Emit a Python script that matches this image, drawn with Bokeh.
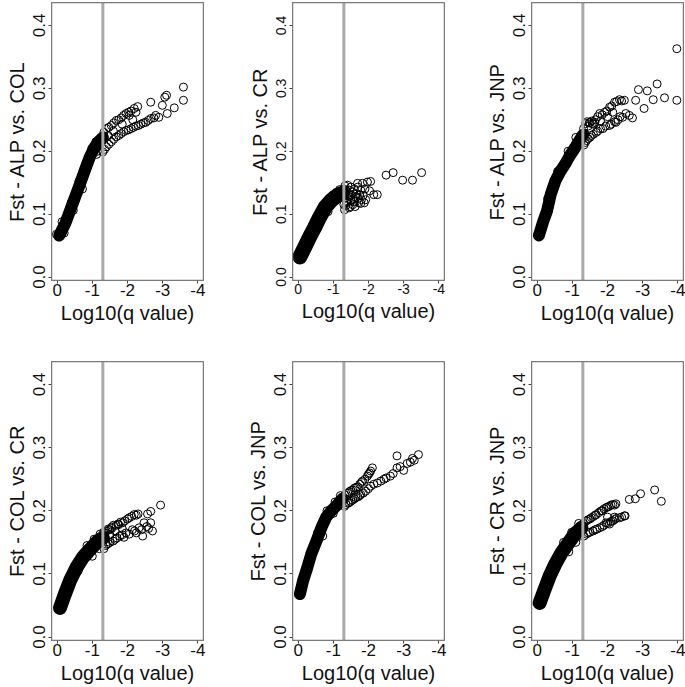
from bokeh.plotting import figure
from bokeh.layouts import row, column
from bokeh.models import Range1d, Span, FixedTicker, PrintfTickFormatter, BoxAnnotation
from bokeh.embed import file_html
from bokeh.resources import INLINE

# ---------------- data ----------------
x_ticks = [0, -1, -2, -3, -4]
y_ticks = [0.0, 0.1, 0.2, 0.3, 0.4]
q_cutoff = -1.3  # log10(0.05)
x_label = "Log10(q value)"

labels = ["Fst - ALP vs. COL", "Fst - ALP vs. CR", "Fst - ALP vs. JNP",
          "Fst - COL vs. CR", "Fst - COL vs. JNP", "Fst - CR vs. JNP"]

# dense (solid) part of each cloud: centre line of the band
core_x_alp_col = [-0.06, -0.23, -0.37, -0.51, -0.65, -0.79, -0.93, -1.07, -1.21, -1.30]
core_y_alp_col = [0.066, 0.085, 0.106, 0.127, 0.148, 0.170, 0.191, 0.207, 0.217, 0.222]
pts_x_alp_col = [-1.33, -1.40, -1.47, -1.54, -1.61, -1.68, -1.75, -1.82, -1.89, -1.96, -2.03, -2.10, -2.19, -2.24, -2.29, -2.05,
                 -1.30, -1.35, -1.40, -1.47, -1.54, -1.61, -1.68, -1.75, -1.82, -1.89, -1.96, -2.03, -2.10, -2.17, -2.24, -2.31,
                 -2.38, -2.45, -2.52, -2.59, -2.66, -2.75, -2.89, -1.45, -1.60, -1.85, -2.15,
                 -2.66, -2.80, -2.99, -3.06, -3.11, -3.13, -3.33, -3.59, -3.59,
                 0.02, -0.20, -1.15, -1.20, -1.25, -1.10,
                 -0.14, -0.40, -0.62, -0.86, -0.98, -0.46, -0.72, -1.12]
pts_y_alp_col = [0.230, 0.236, 0.238, 0.241, 0.245, 0.249, 0.250, 0.253, 0.257, 0.260, 0.262, 0.264, 0.268, 0.262, 0.271, 0.257,
                 0.199, 0.203, 0.207, 0.211, 0.215, 0.219, 0.223, 0.225, 0.228, 0.231, 0.233, 0.234, 0.236, 0.238, 0.240, 0.241,
                 0.243, 0.245, 0.246, 0.249, 0.252, 0.253, 0.254, 0.225, 0.232, 0.243, 0.250,
                 0.278, 0.257, 0.273, 0.286, 0.289, 0.260, 0.269, 0.281, 0.302,
                 0.068, 0.070, 0.200, 0.210, 0.222, 0.215,
                 0.088, 0.118, 0.152, 0.185, 0.204, 0.106, 0.140, 0.195]

core_x_alp_cr = [-0.05, -0.19, -0.33, -0.47, -0.61, -0.77, -0.94, -1.12, -1.25]
core_y_alp_cr = [0.032, 0.048, 0.064, 0.079, 0.095, 0.111, 0.122, 0.130, 0.133]
pts_x_alp_cr = [-1.30, -1.36, -1.41, -1.50, -1.64, -1.69, -1.78, -1.78, -1.83, -1.92, -1.97, -2.06, -2.15, -2.25, -2.03,
                -2.50, -2.70, -2.97, -3.25, -3.51, -1.36, -1.50, -1.40, -1.45, -1.55, -1.60, -1.70, -1.32, -1.85, -1.42, -1.55,
                -1.33, -1.38, -1.44, -1.48, -1.52, -1.58, -1.62, -1.66, -1.72, -1.75, -1.80, -1.88, -1.35, -1.47, -1.60,
                -1.70, -1.33, -1.90, -1.30,
                -0.40, -0.70, -0.98, -1.18, -0.55, -0.85]
pts_y_alp_cr = [0.140, 0.138, 0.146, 0.143, 0.127, 0.149, 0.117, 0.138, 0.149, 0.123, 0.151, 0.152, 0.131, 0.131, 0.137,
                0.162, 0.166, 0.154, 0.154, 0.166, 0.114, 0.122, 0.120, 0.110, 0.115, 0.120, 0.125, 0.107, 0.130, 0.130, 0.135,
                0.125, 0.118, 0.128, 0.112, 0.130, 0.125, 0.112, 0.132, 0.118, 0.130, 0.123, 0.118, 0.133, 0.138, 0.140,
                0.143, 0.145, 0.140, 0.115,
                0.080, 0.112, 0.130, 0.139, 0.078, 0.104]

core_x_alp_jnp = [-0.05, -0.17, -0.28, -0.39, -0.52, -0.66, -0.80, -0.93, -1.07, -1.20, -1.30]
core_y_alp_jnp = [0.066, 0.088, 0.105, 0.132, 0.153, 0.168, 0.180, 0.193, 0.205, 0.217, 0.226]
pts_x_alp_jnp = [-1.36, -1.50, -1.64, -1.78, -1.92, -2.06, -2.20, -2.34, -2.48, -1.45, -1.57,
                 -1.40, -1.54, -1.68, -1.87, -2.06, -2.24, -2.43, -2.62, -2.71, -1.80, -2.00, -2.15,
                 -2.80, -2.88, -3.04, -3.13, -3.30, -3.41, -3.62, -3.97, -3.97,
                 -1.32, -1.38, -1.42, -1.48, -1.55, -1.60, -1.66, -1.72,
                 -1.33, -1.37, -1.45, -1.50, -1.60, -1.72, -1.80, -1.95, -2.10, -2.20, -2.30, -2.36, -2.52,
                 -1.85, -1.98, -2.12, -2.26, -2.40,
                 -0.30, -0.58, -0.88, -1.10, -0.74, -1.00]
pts_y_alp_jnp = [0.228, 0.246, 0.246, 0.260, 0.262, 0.270, 0.278, 0.282, 0.281, 0.240, 0.244,
                 0.217, 0.225, 0.230, 0.236, 0.241, 0.246, 0.254, 0.257, 0.253, 0.248, 0.255, 0.262,
                 0.281, 0.298, 0.268, 0.296, 0.282, 0.307, 0.285, 0.363, 0.281,
                 0.236, 0.244, 0.247, 0.245, 0.248, 0.243, 0.250, 0.255,
                 0.210, 0.214, 0.220, 0.222, 0.227, 0.232, 0.236, 0.240, 0.243, 0.247, 0.250, 0.255, 0.260,
                 0.258, 0.264, 0.272, 0.279, 0.280,
                 0.125, 0.168, 0.200, 0.222, 0.172, 0.198]

core_x_col_cr = [-0.08, -0.22, -0.38, -0.55, -0.73, -0.94, -1.16, -1.30]
core_y_col_cr = [0.046, 0.068, 0.091, 0.110, 0.126, 0.139, 0.152, 0.157]
pts_x_col_cr = [-1.49, -1.68, -1.86, -2.05, -2.19, -1.40, -1.59, -1.78, -1.96, -2.14, -2.33, -2.47, -2.43,
                -2.66, -2.71, -2.57, -2.66, -2.94, -1.35, -1.55, -1.75,
                -1.32, -1.40, -1.45, -1.55, -1.60, -1.73, -1.80, -1.92, -2.00, -2.12, -2.25, -2.30,
                -1.33, -1.38, -1.45, -1.50, -1.65, -1.70, -1.85, -1.90, -2.05, -2.20, -2.25, -2.40, -2.55, -2.60,
                -1.50, -1.65, -1.85,
                -0.85, -1.05, -1.22, -1.00, -1.20, -0.60]
pts_y_col_cr = [0.170, 0.177, 0.181, 0.189, 0.194, 0.147, 0.152, 0.160, 0.165, 0.170, 0.173, 0.181, 0.160,
                0.181, 0.168, 0.195, 0.199, 0.209, 0.165, 0.172, 0.178,
                0.166, 0.168, 0.171, 0.174, 0.177, 0.179, 0.182, 0.184, 0.187, 0.191, 0.193, 0.195,
                0.140, 0.145, 0.148, 0.150, 0.155, 0.157, 0.162, 0.158, 0.163, 0.168, 0.165, 0.170, 0.175, 0.172,
                0.162, 0.168, 0.172,
                0.145, 0.155, 0.163, 0.128, 0.140, 0.105]

core_x_col_jnp = [-0.05, -0.14, -0.26, -0.37, -0.52, -0.66, -0.80, -0.96, -1.12, -1.26]
core_y_col_jnp = [0.068, 0.089, 0.110, 0.131, 0.152, 0.173, 0.190, 0.201, 0.210, 0.219]
pts_x_col_jnp = [-1.41, -1.55, -1.69, -1.83, -1.97, -2.06, -2.11, -1.36, -1.50, -1.64, -1.78, -1.92, -2.06,
                 -2.25, -2.44, -2.62, -2.81, -2.81, -3.42, -3.19, -3.00, -3.30,
                 -1.33, -1.45, -1.50, -1.60, -1.65, -1.75, -1.80, -1.90, -2.00, -2.03,
                 -1.32, -1.42, -1.45, -1.55, -1.60, -1.70, -1.75, -1.85, -2.00, -2.15, -2.35, -2.50, -2.70, -2.90,
                 -3.10, -3.25,
                 -0.55, -0.82, -1.05, -1.20, -0.70, -1.00]
pts_y_col_jnp = [0.228, 0.233, 0.238, 0.247, 0.255, 0.263, 0.268, 0.210, 0.215, 0.221, 0.226, 0.231, 0.239,
                 0.244, 0.250, 0.255, 0.268, 0.287, 0.289, 0.277, 0.264, 0.280,
                 0.225, 0.230, 0.232, 0.236, 0.237, 0.242, 0.245, 0.250, 0.258, 0.260,
                 0.207, 0.212, 0.213, 0.217, 0.219, 0.222, 0.224, 0.228, 0.235, 0.242, 0.247, 0.252, 0.259, 0.270,
                 0.275, 0.283,
                 0.165, 0.200, 0.214, 0.224, 0.160, 0.196]

core_x_cr_jnp = [-0.07, -0.21, -0.36, -0.51, -0.70, -0.89, -1.07, -1.26]
core_y_cr_jnp = [0.054, 0.075, 0.097, 0.115, 0.134, 0.149, 0.163, 0.173]
pts_x_cr_jnp = [-1.40, -1.54, -1.68, -1.82, -1.96, -2.10, -2.24, -1.40, -1.59, -1.78, -1.96, -2.15, -2.34,
                -2.48, -2.06, -2.62, -2.79, -2.94, -3.34, -3.53,
                -1.32, -1.45, -1.50, -1.60, -1.65, -1.75, -1.85, -1.90, -2.00, -2.05, -2.15, -2.20,
                -1.33, -1.45, -1.50, -1.65, -1.70, -1.85, -1.90, -2.00, -2.10, -2.20, -2.25, -2.40, -2.50,
                -2.00, -2.20,
                -0.75, -0.98, -1.18, -1.22, -0.90, -1.10]
pts_y_cr_jnp = [0.184, 0.189, 0.194, 0.200, 0.205, 0.209, 0.211, 0.163, 0.168, 0.173, 0.181, 0.184, 0.189,
                0.192, 0.179, 0.218, 0.219, 0.227, 0.233, 0.215,
                0.180, 0.186, 0.187, 0.191, 0.193, 0.197, 0.200, 0.203, 0.206, 0.207, 0.210, 0.209,
                0.160, 0.165, 0.166, 0.170, 0.171, 0.175, 0.177, 0.180, 0.183, 0.186, 0.188, 0.190, 0.192,
                0.190, 0.190,
                0.150, 0.166, 0.180, 0.160, 0.135, 0.150]

panels = [
    (core_x_alp_col, core_y_alp_col, pts_x_alp_col, pts_y_alp_col),
    (core_x_alp_cr, core_y_alp_cr, pts_x_alp_cr, pts_y_alp_cr),
    (core_x_alp_jnp, core_y_alp_jnp, pts_x_alp_jnp, pts_y_alp_jnp),
    (core_x_col_cr, core_y_col_cr, pts_x_col_cr, pts_y_col_cr),
    (core_x_col_jnp, core_y_col_jnp, pts_x_col_jnp, pts_y_col_jnp),
    (core_x_cr_jnp, core_y_cr_jnp, pts_x_cr_jnp, pts_y_cr_jnp),
]

# ---------------- style / layout ----------------
FONT = "Liberation Sans"
band_widths = [12, 15, 12, 14, 12, 14]
tick_sizes = ["17px", "14px", "17px", "17px", "17px", "17px"]
col_widths = [240, 240, 205]
col_left = [51, 52, 51]
row_heights = [340, 347]
row_top = [2, 21]
FRAME_W = 152
FRAME_H = [278, 279]
BOX = "#7a7a7a"


def make_panel(i):
    r, c = divmod(i, 3)
    cx, cy, px, py = panels[i]
    p = figure(width=col_widths[c], height=row_heights[r],
               x_range=Range1d(0.16, -4.16), y_range=Range1d(-0.0055, 0.4365),
               output_backend="svg", toolbar_location=None,
               min_border_left=col_left[c],
               min_border_right=col_widths[c] - col_left[c] - FRAME_W,
               min_border_top=row_top[r],
               min_border_bottom=row_heights[r] - row_top[r] - FRAME_H[r])
    p.grid.visible = False
    p.outline_line_color = BOX
    p.outline_line_width = 1
    p.background_fill_color = "white"
    p.border_fill_color = "white"

    xa = p.xaxis[0]
    ya = p.yaxis[0]
    xa.ticker = FixedTicker(ticks=x_ticks)
    ya.ticker = FixedTicker(ticks=y_ticks)
    xa.formatter = PrintfTickFormatter(format="%d")
    ya.formatter = PrintfTickFormatter(format="%.1f")
    for ax in (xa, ya):
        ax.axis_line_color = BOX
        ax.major_tick_line_color = "#444444"
        ax.major_tick_in = 0
        ax.major_tick_out = 3
        ax.minor_tick_line_color = None
        ax.major_label_text_font = FONT
        ax.major_label_text_font_size = tick_sizes[i]
        ax.major_label_text_color = "#111111"
        ax.axis_label_text_font = FONT
        ax.axis_label_text_font_size = "20px"
        ax.axis_label_text_font_style = "normal"
        ax.axis_label_text_color = "#111111"
    xa.axis_label = x_label
    ya.axis_label = labels[i]
    ya.major_label_orientation = "vertical"
    xa.major_label_standoff = 0
    ya.major_label_standoff = 3
    xa.axis_label_standoff = 3
    ya.axis_label_standoff = 3

    p.add_layout(Span(location=q_cutoff, dimension="height",
                      line_color="#a9a9a9", line_width=3))
    p.add_layout(BoxAnnotation(fill_color=None, line_color=BOX, line_width=1.5,
                               line_alpha=1.0))
    p.line(cx, cy, line_width=band_widths[i], line_color="black",
           line_cap="round", line_join="round")
    p.scatter(px, py, marker="circle", size=8, fill_color=None,
              line_color="black", line_width=1)
    return p


figs = [make_panel(i) for i in range(6)]
layout = column(row(*figs[:3]), row(*figs[3:]))

with open("out.html", "w") as f:
    f.write(file_html(layout, INLINE))
